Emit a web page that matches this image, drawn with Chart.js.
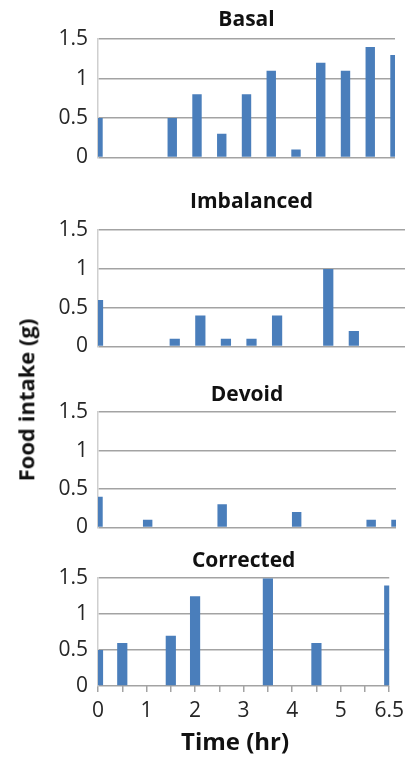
<!DOCTYPE html>
<html>
<head>
<meta charset="utf-8">
<script src="https://cdn.jsdelivr.net/npm/chart.js@4/dist/chart.umd.min.js"></script>
<style>
  body { margin: 0; background: #fff; }
  #wrap { position: relative; width: 410px; height: 758px; overflow: hidden; }
  canvas { position: absolute; left: 0; }
  .axisTitle { position: absolute; font-family: 'Open Sans', sans-serif; font-weight: bold; color: #111; white-space: nowrap; }
</style>
</head>
<body>
<div id="wrap">
  <canvas id="c1" width="410" height="180" style="top:0px"></canvas>
  <canvas id="c2" width="410" height="189" style="top:180px"></canvas>
  <canvas id="c3" width="410" height="180" style="top:370px"></canvas>
  <canvas id="c4" width="410" height="188" style="top:540px"></canvas>
  <div class="axisTitle" id="ytitle" style="font-size:22px">Food intake (g)</div>
  <div class="axisTitle" id="xtitle" style="font-size:24px">Time (hr)</div>
</div>
<script>
// time points (half-hour steps), last one is labelled 6.5 on the original axis
var times = ['0','0.5','1','1.5','2','2.5','3','3.5','4','4.5','5','5.5','6.5'];
var tickLabels = ['0','','1','','2','','3','','4','','5','','6.5'];
var yTicks = [0, 0.5, 1, 1.5];

var basal      = [0.5, 0, 0, 0.5, 0.8, 0.3, 0.8, 1.1, 0.1, 1.2, 1.1, 1.4, 1.3];
var imbalanced = [0.6, 0, 0, 0.1, 0.4, 0.1, 0.1, 0.4, 0, 1.0, 0.2, 0, 0];
var devoid     = [0.4, 0, 0.1, 0, 0, 0.3, 0, 0, 0.2, 0, 0, 0.1, 0.1];
var corrected  = [0.5, 0.6, 0, 0.7, 1.25, 0, 0, 1.5, 0, 0.6, 0, 0, 1.4];

var barColor = '#4a7ebb';
var gridColor = '#a3a3a3';

Chart.defaults.font.family = 'Open Sans';
Chart.defaults.color = '#262626';

function makePanel(id, title, values, opt) {
    var ctx = document.getElementById(id).getContext('2d');
    var showX = opt.showX;
    return new Chart(ctx, {
        type: 'bar',
        data: {
            labels: times,
            datasets: [{
                data: values,
                backgroundColor: barColor,
                borderWidth: 0,
                barPercentage: opt.barPct,
                categoryPercentage: 1,
                clip: 0
            }]
        },
        options: {
            responsive: false,
            animation: false,
            events: [],
            layout: {
                padding: { left: 0, right: opt.right, top: 0, bottom: 0 }
            },
            plugins: {
                legend: { display: false },
                tooltip: { enabled: false },
                title: {
                    display: true,
                    text: title,
                    fullSize: false,
                    color: '#111',
                    font: { size: 21, weight: 'bold' },
                    padding: { top: opt.p1, bottom: opt.p2 }
                }
            },
            scales: {
                x: {
                    display: showX,
                    offset: false,
                    grid: {
                        offset: false,
                        display: true,
                        drawOnChartArea: false,
                        drawTicks: true,
                        tickLength: 6,
                        color: gridColor,
                        lineWidth: 1.5
                    },
                    border: { display: false },
                    ticks: {
                        autoSkip: false,
                        maxRotation: 0,
                        padding: 6,
                        font: { size: 21 },
                        callback: function(val, i) { return tickLabels[i]; }
                    },
                    afterFit: function(scale) { if (showX) scale.height = 42; }
                },
                y: {
                    min: 0,
                    max: 1.5,
                    afterBuildTicks: function(scale) {
                        scale.ticks = yTicks.map(function(v) { return { value: v }; });
                    },
                    grid: { color: gridColor, lineWidth: 1.5, drawTicks: false },
                    border: { display: true, color: '#cfcfcf', width: 1.5 },
                    ticks: {
                        autoSkip: false,
                        padding: 10,
                        font: { size: 21 },
                        callback: function(v) { return String(v); }
                    },
                    afterFit: function(scale) { scale.width = 98; }
                }
            }
        }
    });
}

makePanel('c1', 'Basal', basal, { p1: 7, p2: 7, right: 15, barPct: 0.38, showX: false });
makePanel('c2', 'Imbalanced', imbalanced, { p1: 9, p2: 16, right: 5, barPct: 0.4, showX: false });
makePanel('c3', 'Devoid', devoid, { p1: 12, p2: 5, right: 14, barPct: 0.38, showX: false });
makePanel('c4', 'Corrected', corrected, { p1: 8, p2: 5, right: 15, barPct: 0.42, showX: true });

// axis titles shared by the four panels
var yt = document.getElementById('ytitle');
yt.style.left = (25 - yt.offsetWidth / 2) + 'px';
yt.style.top = (400 - yt.offsetHeight / 2) + 'px';
yt.style.transform = 'rotate(-90deg)';
var xt = document.getElementById('xtitle');
xt.style.left = (235 - xt.offsetWidth / 2) + 'px';
xt.style.top = (740 - xt.offsetHeight / 2) + 'px';
</script>
</body>
</html>
